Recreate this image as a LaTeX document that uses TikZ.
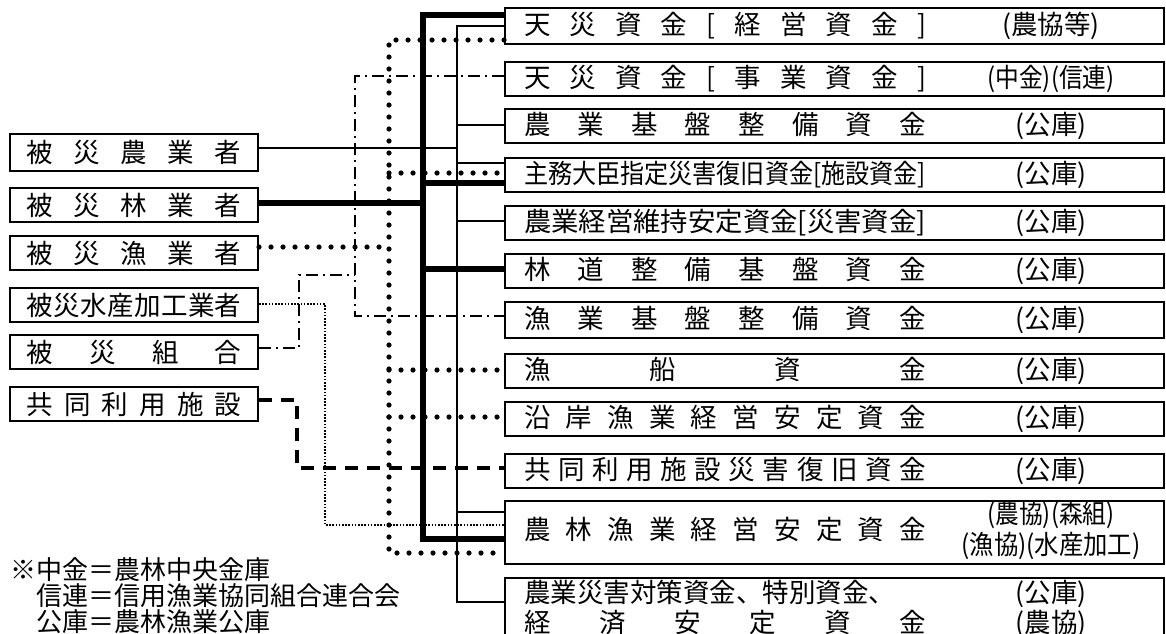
\documentclass[tikz,border=0pt]{standalone}
\usepackage{fontspec}
\setmainfont{Noto Sans CJK JP}
\usepackage{graphicx}

% spread the characters of a label over the whole box
\newcommand{\spread}[1]{\spreadi#1\relax}
\def\spreadi#1{#1\spreadj}
\def\spreadj#1{\ifx\relax#1\else\hfill#1\expandafter\spreadj\fi}
\newcommand{\lrow}[1]{\hbox to 107.5pt{\spread{#1}}}
\newcommand{\rrow}[2]{\hbox to 310.5pt{\hbox to 201pt{#1\hfil}\hfil\hbox to 0pt{\hss #2\hss}\hskip 47pt}}
\newcommand{\squeeze}[2]{\resizebox{#1}{\height}{#2}}

\begin{document}
\begin{tikzpicture}[
    x=0.5pt, y=-0.5pt,
    lbox/.style={draw, line width=1pt, anchor=north west, minimum width=124pt, minimum height=17pt,
        inner xsep=8pt, inner ysep=0pt, font=\fontsize{13.25pt}{15pt}\selectfont},
    rbox/.style={draw, line width=1pt, anchor=north west, minimum width=329.5pt, minimum height=17pt,
        inner xsep=9.5pt, inner ysep=0pt, font=\fontsize{13.25pt}{15pt}\selectfont},
    thinline/.style={line width=0.6pt},
    thickline/.style={line width=2.8pt},
    dotline/.style={line width=2.6pt, dash pattern=on 0pt off 6pt, line cap=round},
    fineline/.style={line width=0.9pt, dash pattern=on 0.8pt off 0.8pt},
    ddline/.style={line width=1.2pt, dash pattern=on 6pt off 2.5pt on 1pt off 2.5pt},
    dashline/.style={line width=1.7pt, dash pattern=on 6.5pt off 4.5pt},
]
\useasboundingbox (0,0) rectangle (1166,633);
\clip (0,0) rectangle (1166,633);

% sufferers
\node[lbox, minimum height=18.5pt] (l1) at (9,133) {\lrow{被災農業者}};
\node[lbox] (l2) at (9,187) {\lrow{被災林業者}};
\node[lbox] (l3) at (9,235) {\lrow{被災漁業者}};
\node[lbox] (l4) at (9,287) {\lrow{被災水産加工業者}};
\node[lbox] (l5) at (9,334) {\lrow{被災組合}};
\node[lbox] (l6) at (9,386) {\lrow{共同利用施設}};

% funds
\node[rbox, minimum height=18pt] (r1) at (504,7) {\rrow{\spread{天災資金[経営資金]}}{(農協等)}};
\node[rbox] (r2) at (504,61) {\rrow{\spread{天災資金[事業資金]}}{\squeeze{63.5pt}{(中金)(信連)}}};
\node[rbox] (r3) at (504,108) {\rrow{\spread{農業基盤整備資金}}{(公庫)}};
\node[rbox] (r4) at (504,157) {\rrow{\squeeze{201pt}{主務大臣指定災害復旧資金[施設資金]}}{(公庫)}};
\node[rbox] (r5) at (504,204.5) {\rrow{\squeeze{201pt}{農業経営維持安定資金[災害資金]}}{(公庫)}};
\node[rbox] (r6) at (504,252.5) {\rrow{\spread{林道整備基盤資金}}{(公庫)}};
\node[rbox, minimum height=18pt] (r7) at (504,301) {\rrow{\spread{漁業基盤整備資金}}{(公庫)}};
\node[rbox] (r8) at (504,353) {\rrow{\spread{漁船資金}}{(公庫)}};
\node[rbox] (r9) at (504,400.5) {\rrow{\spread{沿岸漁業経営安定資金}}{(公庫)}};
\node[rbox] (r10) at (504,453) {\rrow{\spread{共同利用施設災害復旧資金}}{(公庫)}};
\node[rbox, minimum height=30pt] (r11) at (504,500) {\rrow{\spread{農林漁業経営安定資金}}{%
    \begin{tabular}{@{}c@{}}\squeeze{63.5pt}{(農協)(森組)}\\\squeeze{89.5pt}{(漁協)(水産加工)}\end{tabular}}};
\node[rbox, minimum height=30.5pt, align=left] (r12) at (504,577) {\rrow{農業災害対策資金、特別資金、}{(公庫)}\\
    \rrow{\spread{経済安定資金}}{(農協)}};

% buses
\coordinate (thinbus) at (457,0);
\coordinate (thickbus) at (423,0);
\coordinate (dotbus) at (389,0);
\coordinate (ddbus) at (355,0);
\coordinate (fdbus) at (325,0);
\coordinate (dashbus) at (297,0);
\coordinate (ddjog) at (299,0);

% farmers
\draw[thinline] (r1.west |- 0,26) -| (thinbus |- 0,602) -- (r12.west |- 0,602);
\draw[thinline] (l1.east |- 0,148) -- (thinbus |- 0,148);
\foreach \n/\y in {r3/125, r4/163, r5/221, r11/512}
    \draw[thinline] (thinbus |- 0,\y) -- (\n.west |- 0,\y);

% foresters
\draw[thickline] (r1.west |- 0,15) -| (thickbus |- 0,539) -- (r11.west |- 0,539);
\draw[thickline] (l2.east |- 0,203) -- (thickbus |- 0,203);
\foreach \n/\y in {r4/183, r6/269}
    \draw[thickline] (thickbus |- 0,\y) -- (\n.west |- 0,\y);

% fishers
\draw[dotline] (r1.west |- 0,40) -| (dotbus |- 0,553) -- (r11.west |- 0,553);
\draw[dotline] (l3.east |- 0,247) -- (dotbus |- 0,247);
\foreach \n/\y in {r4/173, r8/370, r9/417}
    \draw[dotline] (dotbus |- 0,\y) -- (\n.west |- 0,\y);

% processors
\draw[fineline] (l4.east |- 0,304) -| (fdbus |- 0,525) -- (r11.west |- 0,525);

% unions
\draw[ddline] (r2.west |- 0,76) -| (ddbus |- 0,316) -- (r7.west |- 0,316);
\draw[ddline] (l5.east |- 0,348) -| (ddjog |- 0,275) -- (ddbus |- 0,275);

% shared facilities
\draw[dashline] (l6.east |- 0,400) -| (dashbus |- 0,468) -- (r10.west |- 0,468);

% note
\node[anchor=north west, inner sep=0pt, font=\fontsize{13pt}{13pt}\selectfont] (note) at (10,557)
    {\vbox{\baselineskip=13pt\lineskiplimit=-20pt\relax
        \hbox{※中金＝農林中央金庫}
        \hbox{\hspace*{1em}信連＝信用漁業協同組合連合会}
        \hbox{\hspace*{1em}公庫＝農林漁業公庫}}};
\end{tikzpicture}
\end{document}
